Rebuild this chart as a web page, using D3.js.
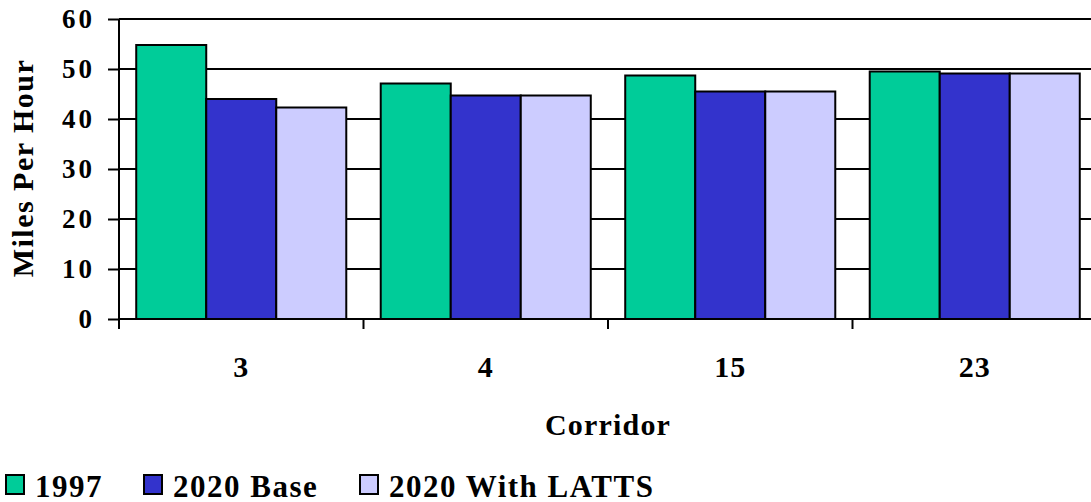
<!DOCTYPE html>
<html>
<head>
<meta charset="utf-8">
<script src="https://cdn.jsdelivr.net/npm/d3@7"></script>
<style>
  html, body { margin: 0; padding: 0; background: #fff; }
  svg { display: block; }
  text { font-family: "Liberation Serif", "Times New Roman", serif; font-weight: bold; fill: #000; }
</style>
</head>
<body>
<svg id="chart" width="1091" height="502"></svg>
<script>
// Average speeds by corridor
const corridors = ["3", "4", "15", "23"];
const seriesNames = ["1997", "2020 Base", "2020 With LATTS"];
const speeds1997 = [54.8, 47.1, 48.7, 49.5];
const speeds2020Base = [44.0, 44.7, 45.5, 49.1];
const speeds2020Latts = [42.3, 44.7, 45.5, 49.1];
const yTicks = [0, 10, 20, 30, 40, 50, 60];
const colors = ["#00CC99", "#3333CC", "#CCCCFF"];

const series = [speeds1997, speeds2020Base, speeds2020Latts];

const svg = d3.select("#chart");
const W = 1091;
const plotLeft = 119, plotTop = 19, plotBottom = 319;
const bandStep = 244.5;
const plotRight = plotLeft + bandStep * corridors.length;

const x0 = d3.scaleBand().domain(corridors).range([plotLeft, plotRight]).padding(0);
const x1 = d3.scaleBand().domain(d3.range(seriesNames.length))
  .range([0, x0.bandwidth()]).paddingInner(0).paddingOuter(0.246);
const y = d3.scaleLinear().domain([0, 60]).range([plotBottom, plotTop]);

// horizontal gridlines
svg.append("g")
  .selectAll("line")
  .data(yTicks.filter(d => d > 0))
  .join("line")
  .attr("x1", plotLeft).attr("x2", W + 10)
  .attr("y1", d => y(d)).attr("y2", d => y(d))
  .attr("stroke", "#000").attr("stroke-width", 2);

// bars
const groups = svg.append("g")
  .selectAll("g")
  .data(corridors)
  .join("g")
  .attr("transform", d => `translate(${x0(d)},0)`);

groups.selectAll("rect")
  .data((d, i) => series.map((s, k) => ({ k, v: s[i] })))
  .join("rect")
  .attr("x", d => x1(d.k))
  .attr("width", x1.bandwidth())
  .attr("y", d => y(d.v))
  .attr("height", d => y(0) - y(d.v))
  .attr("fill", d => colors[d.k])
  .attr("stroke", "#000")
  .attr("stroke-width", 2);

// y axis
const yAxis = d3.axisLeft(y).tickValues(yTicks).tickSize(11).tickPadding(13);
const gy = svg.append("g").attr("transform", `translate(${plotLeft},0)`).call(yAxis);
gy.select(".domain").attr("stroke-width", 2).attr("d", `M0,${plotTop}V${plotBottom + 10}`);
gy.selectAll(".tick line").attr("stroke-width", 2);
gy.selectAll(".tick text")
  .attr("font-size", 27)
  .attr("font-family", null)
  .attr("letter-spacing", 3);

// x axis: category dividers as ticks
const gx = svg.append("g").attr("transform", `translate(0,${plotBottom})`);
gx.append("line").attr("x1", plotLeft).attr("x2", W + 10)
  .attr("stroke", "#000").attr("stroke-width", 2);
gx.selectAll("line.div")
  .data(corridors.slice(1))
  .join("line")
  .attr("class", "div")
  .attr("x1", d => x0(d)).attr("x2", d => x0(d))
  .attr("y1", 0).attr("y2", 10)
  .attr("stroke", "#000").attr("stroke-width", 2);
gx.selectAll("text")
  .data(corridors)
  .join("text")
  .attr("x", d => x0(d) + x0.bandwidth() / 2)
  .attr("y", 58)
  .attr("text-anchor", "middle")
  .attr("font-size", 30)
  .attr("letter-spacing", 1)
  .text(d => d);

// axis titles
svg.append("text")
  .attr("x", (plotLeft + plotRight) / 2).attr("y", 435)
  .attr("text-anchor", "middle")
  .attr("font-size", 30)
  .attr("letter-spacing", 1.2)
  .text("Corridor");

svg.append("text")
  .attr("transform", `translate(33,168) rotate(-90)`)
  .attr("text-anchor", "middle")
  .attr("font-size", 30)
  .attr("letter-spacing", 1.5)
  .text("Miles Per Hour");

// legend
const legendX = [5, 143, 359];
const leg = svg.append("g")
  .selectAll("g")
  .data(seriesNames)
  .join("g")
  .attr("transform", (d, i) => `translate(${legendX[i]},474)`);
leg.append("rect")
  .attr("x", 1).attr("y", 1).attr("width", 18).attr("height", 19)
  .attr("fill", (d, i) => colors[i])
  .attr("stroke", "#000").attr("stroke-width", 2);
leg.append("text")
  .attr("x", 30).attr("y", 23)
  .attr("font-size", 31)
  .attr("letter-spacing", 1.5)
  .text(d => d);
</script>
</body>
</html>
